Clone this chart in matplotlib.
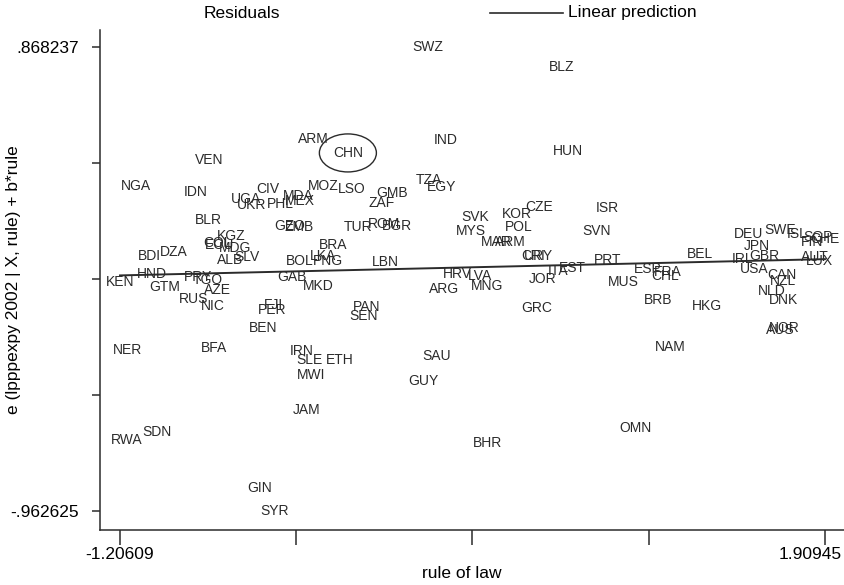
import matplotlib
matplotlib.use('Agg')
import matplotlib.pyplot as plt
from matplotlib.patches import Ellipse
from matplotlib.lines import Line2D
from matplotlib.transforms import ScaledTranslation

plt.rcParams['font.family'] = ['Liberation Sans', 'DejaVu Sans']

## country codes, rule of law (x) and component-plus-residual (y)
codes = ['SWZ', 'BLZ', 'ARM', 'CHN', 'IND', 'VEN', 'HUN', 'NGA', 'IDN', 'CIV',
         'UGA', 'UKR', 'PHL', 'MDA', 'MEX', 'MOZ', 'LSO', 'TZA', 'EGY', 'GMB',
         'ZAF', 'CZE', 'ISR', 'KOR', 'SVK', 'MYS', 'POL', 'SVN', 'BLR', 'TUR',
         'ROM', 'BGR', 'GEO', 'ZMB', 'KGZ', 'BRA', 'COL', 'ECU', 'MDG', 'BDI',
         'DZA', 'ALB', 'SLV', 'BOL', 'LKA', 'PNG', 'LBN', 'HND', 'KEN', 'GTM',
         'PRY', 'TGO', 'AZE', 'GAB', 'MKD', 'RUS', 'NIC', 'FJI', 'PER', 'BEN',
         'PAN', 'SEN', 'HRV', 'LVA', 'MNG', 'ARG', 'MAR', 'ARM', 'CRI', 'URY',
         'ITA', 'EST', 'JOR', 'PRT', 'MUS', 'GRC', 'ESP', 'FRA', 'CHL', 'BRB',
         'HKG', 'NAM', 'BEL', 'DEU', 'SWE', 'ISL', 'FIN', 'SGP', 'CHE', 'JPN',
         'IRL', 'GBR', 'AUT', 'LUX', 'USA', 'CAN', 'NZL', 'NLD', 'DNK', 'NOR',
         'AUS', 'SAU', 'GUY', 'BHR', 'OMN', 'IRN', 'SLE', 'ETH', 'MWI', 'JAM',
         'NER', 'BFA', 'RWA', 'SDN', 'GIN', 'SYR']
rule = [0.155, 0.747, -0.353, -0.199, 0.235, -0.813, 0.774, -1.135, -0.870, -0.552,
        -0.649, -0.623, -0.499, -0.419, -0.411, -0.309, -0.181, 0.159, 0.213, -0.004,
        -0.048, 0.646, 0.946, 0.548, 0.363, 0.345, 0.557, 0.902, -0.817, -0.154,
        -0.039, 0.018, -0.455, -0.415, -0.715, -0.265, -0.777, -0.764, -0.698, -1.078,
        -0.967, -0.720, -0.645, -0.411, -0.309, -0.287, -0.035, -1.065, -1.20609, -1.007,
        -0.861, -0.817, -0.777, -0.446, -0.331, -0.879, -0.795, -0.526, -0.534, -0.574,
        -0.115, -0.128, 0.283, 0.385, 0.416, 0.226, 0.456, 0.517, 0.619, 0.641,
        0.730, 0.791, 0.663, 0.950, 1.017, 0.637, 1.127, 1.216, 1.202, 1.171,
        1.388, 1.225, 1.357, 1.574, 1.711, 1.786, 1.852, 1.879, 1.90945, 1.609,
        1.547, 1.640, 1.865, 1.887, 1.596, 1.719, 1.724, 1.675, 1.724, 1.728,
        1.711, 0.195, 0.133, 0.416, 1.070, -0.402, -0.371, -0.234, -0.362, -0.380,
        -1.175, -0.791, -1.175, -1.043, -0.587, -0.521]
cpr = [0.868237, 0.789, 0.505, 0.450, 0.501, 0.422, 0.458, 0.320, 0.296, 0.308,
       0.268, 0.245, 0.249, 0.280, 0.260, 0.320, 0.308, 0.343, 0.316, 0.292,
       0.252, 0.237, 0.233, 0.209, 0.197, 0.142, 0.158, 0.142, 0.186, 0.158,
       0.170, 0.162, 0.162, 0.158, 0.122, 0.087, 0.095, 0.087, 0.075, 0.044,
       0.059, 0.028, 0.040, 0.024, 0.044, 0.024, 0.020, -0.028, -0.059, -0.079,
       -0.040, -0.051, -0.091, -0.040, -0.075, -0.126, -0.154, -0.150, -0.170, -0.241,
       -0.158, -0.193, -0.028, -0.036, -0.075, -0.087, 0.099, 0.099, 0.044, 0.044,
       -0.016, -0.004, -0.047, 0.028, -0.059, -0.162, -0.008, -0.020, -0.036, -0.130,
       -0.154, -0.316, 0.051, 0.130, 0.146, 0.130, 0.099, 0.119, 0.111, 0.083,
       0.032, 0.044, 0.040, 0.024, -0.008, -0.032, -0.055, -0.095, -0.130, -0.241,
       -0.249, -0.351, -0.450, -0.694, -0.635, -0.332, -0.367, -0.367, -0.426, -0.564,
       -0.328, -0.320, -0.683, -0.651, -0.872, -0.962625]

## linear prediction endpoints
fit_x = [-1.20609, 1.90945]
fit_y = [-0.0332, 0.0310]

xticks = [-1.20609, -0.42721, 0.35168, 1.13056, 1.90945]
xticklabels = ['-1.20609', '', '', '', '1.90945']
yticks = [0.868237, 0.410522, -0.047194, -0.504909, -0.962625]
yticklabels = ['.868237', '', '', '', '-.962625']

dark = '#2b2b2b'

fig = plt.figure(figsize=(8.45, 5.85), dpi=100)
ax = fig.add_axes([100/845, 55/585, 745/845, 500/585])
ax.set_xlim(-1.2945, 1.998)
ax.set_ylim(-1.0376, 0.935)

# residuals drawn as country labels
for c, x, y in zip(codes, rule, cpr):
    ax.text(x, y, c, ha='center', va='center', fontsize=10, color=dark)

ax.plot(fit_x, fit_y, color=dark, lw=1.4)

# circle around China
i = codes.index('CHN')
ax.add_patch(Ellipse((rule[i], cpr[i]), 0.252, 0.150, fill=False, ec=dark, lw=1.0))

for s in ['top', 'right']:
    ax.spines[s].set_visible(False)
for s in ['left', 'bottom']:
    ax.spines[s].set_color(dark)
    ax.spines[s].set_linewidth(1.1)

ax.set_xticks(xticks)
ax.set_xticklabels(xticklabels, fontsize=12.5)
ax.set_yticks(yticks)
ax.set_yticklabels(yticklabels, fontsize=12.5)
ax.tick_params(axis='x', length=11, width=1.1, color=dark, pad=1)
ax.tick_params(axis='y', length=6, width=1.1, color=dark, pad=9)
lab = ax.get_xticklabels()[-1]
lab.set_transform(lab.get_transform() + ScaledTranslation(-0.15, 0, fig.dpi_scale_trans))

ax.set_xlabel('rule of law', fontsize=12.5)
ax.xaxis.set_label_coords(0.486, -0.072)
ax.set_ylabel('e (lpppexpy 2002 | X, rule) + b*rule', fontsize=12.5)
ax.yaxis.set_label_coords(-0.106, 0.5)

# legend on top
fig.text(242/845, 1 - 13/585, 'Residuals', ha='center', va='center', fontsize=12.5)
fig.add_artist(Line2D([490/845, 563/845], [1 - 13/585, 1 - 13/585], color=dark, lw=1.2))
fig.text(568/845, 1 - 13/585, 'Linear prediction', ha='left', va='center', fontsize=12.5)

plt.savefig('out.png', dpi=100)
